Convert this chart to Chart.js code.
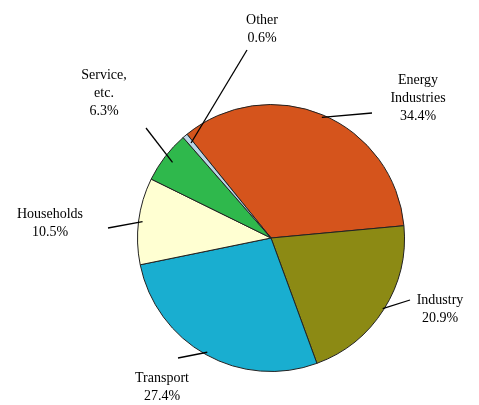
<!DOCTYPE html>
<html>
<head>
<meta charset="utf-8">
<script src="https://cdn.jsdelivr.net/npm/chart.js@4"></script>
<style>
  body { margin: 0; background: #fff; }
  #wrap { width: 479px; height: 405px; }
</style>
</head>
<body>
<div id="wrap"><canvas id="pie" width="479" height="405"></canvas></div>
<script>
const categories = ['Energy Industries', 'Industry', 'Transport', 'Households', 'Service, etc.', 'Other'];
const shares = [34.4, 20.9, 27.4, 10.5, 6.3, 0.6];
const labelLines = [
  ['Energy', 'Industries', '34.4%'],
  ['Industry', '20.9%'],
  ['Transport', '27.4%'],
  ['Households', '10.5%'],
  ['Service,', 'etc.', '6.3%'],
  ['Other', '0.6%']
];
const colors = ['#d5541c', '#8c8a14', '#19aed0', '#ffffd2', '#2fb84c', '#b9d6e6'];

// where each label sits, where its leader line ends, and how far into the pie it starts
const labelPos = [
  { x: 418, y: 80, lx: 372, ly: 113, r: 0.98 },
  { x: 440, y: 300, lx: 410, ly: 300, r: 0.99 },
  { x: 162, y: 378, lx: 178, ly: 358, r: 0.98 },
  { x: 50, y: 214, lx: 108, ly: 228, r: 0.97 },
  { x: 104, y: 75, lx: 146, ly: 128, r: 0.93 },
  { x: 262, y: 20, lx: 247, ly: 50, r: 0.93 }
];

const pieLabels = {
  id: 'pieLabels',
  afterDraw(chart) {
    const ctx = chart.ctx;
    const arcs = chart.getDatasetMeta(0).data;
    ctx.save();
    ctx.font = '14px "Liberation Serif", "DejaVu Serif", serif';
    ctx.fillStyle = '#000';
    ctx.strokeStyle = '#000';
    ctx.lineWidth = 1.3;
    ctx.textBaseline = 'middle';
    ctx.textAlign = 'center';
    arcs.forEach((arc, i) => {
      const p = labelPos[i];
      const mid = (arc.startAngle + arc.endAngle) / 2;
      const r = arc.outerRadius * p.r;
      ctx.beginPath();
      ctx.moveTo(arc.x + Math.cos(mid) * r, arc.y + Math.sin(mid) * r);
      ctx.lineTo(p.lx, p.ly);
      ctx.stroke();
      labelLines[i].forEach((t, k) => ctx.fillText(t, p.x, p.y + k * 18));
    });
    ctx.restore();
  }
};

new Chart(document.getElementById('pie'), {
  type: 'pie',
  data: {
    labels: categories,
    datasets: [{
      data: shares,
      backgroundColor: colors,
      borderColor: '#222',
      borderWidth: 1,
      hoverOffset: 0
    }]
  },
  options: {
    responsive: false,
    animation: false,
    rotation: -39,
    layout: { padding: { left: 137, right: 74, top: 103, bottom: 32 } },
    plugins: { legend: { display: false }, tooltip: { enabled: false } }
  },
  plugins: [pieLabels]
});
</script>
</body>
</html>
